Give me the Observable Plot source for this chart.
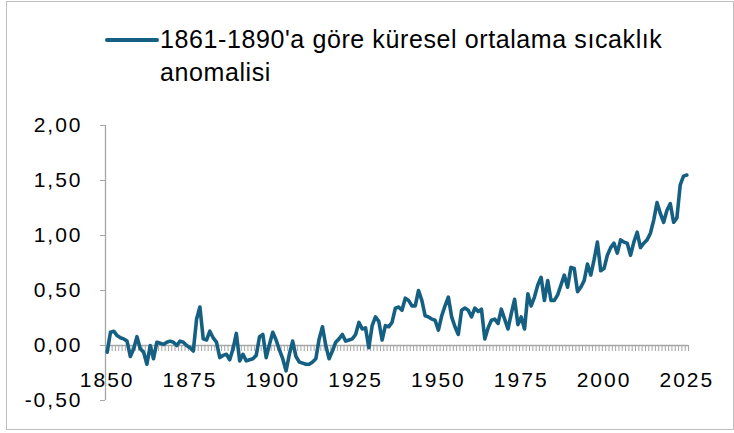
<!DOCTYPE html>
<html>
<head>
<meta charset="utf-8">
<script src="https://cdn.jsdelivr.net/npm/d3@7"></script>
<script src="https://cdn.jsdelivr.net/npm/@observablehq/plot@0.6"></script>
<style>
  body { margin: 0; background: #fff; }
  #page { position: relative; width: 734px; height: 433px; overflow: hidden; font-family: "Liberation Sans", Arial, sans-serif; }
  #frame { position: absolute; left: 6px; top: 1px; width: 726px; height: 427px; border: 1px solid #bfbfbf; }
  #legend { position: absolute; left: 105px; top: 23px; display: flex; align-items: flex-start; }
  #swatch { width: 54px; height: 4px; background: #156082; border-radius: 2px; margin-top: 15px; }
  #legtext { margin-left: 1px; font-size: 25px; line-height: 33px; letter-spacing: 0.6px; color: #000; white-space: nowrap; }
  #chart { position: absolute; left: 0; top: 100px; }
</style>
</head>
<body>
<div id="page">
  <div id="frame"></div>
  <div id="legend"><div id="swatch"></div><div id="legtext">1861-1890'a göre küresel ortalama sıcaklık<br>anomalisi</div></div>
  <div id="chart"></div>
</div>
<script>
// Annual global mean temperature anomaly vs 1861-1890 (°C), 1850..2025
const firstYear = 1850;
const anomaly = [
  -0.06, 0.12, 0.13, 0.09, 0.07, 0.06, 0.04, -0.10, -0.03, 0.08,   // 1850-1859
  -0.03, -0.06, -0.17, 0.00, -0.12, 0.03, 0.02, 0.01, 0.03, 0.04,  // 1860-1869
  0.03, 0.00, 0.04, 0.03, 0.00, -0.02, -0.05, 0.24, 0.35, 0.06,    // 1870-1879
  0.05, 0.13, 0.07, 0.03, -0.11, -0.09, -0.08, -0.13, -0.03, 0.11, // 1880-1889
  -0.14, -0.08, -0.14, -0.13, -0.12, -0.09, 0.08, 0.10, -0.11, 0.01, // 1890-1899
  0.12, 0.05, -0.04, -0.12, -0.23, -0.08, 0.04, -0.10, -0.15, -0.16, // 1900-1909
  -0.17, -0.17, -0.15, -0.12, 0.06, 0.17, 0.00, -0.12, -0.05, 0.03,  // 1910-1919
  0.06, 0.10, 0.04, 0.05, 0.06, 0.10, 0.21, 0.15, 0.16, -0.02,     // 1920-1929
  0.18, 0.26, 0.22, 0.05, 0.18, 0.17, 0.21, 0.34, 0.35, 0.32,      // 1930-1939
  0.43, 0.41, 0.36, 0.36, 0.50, 0.41, 0.27, 0.26, 0.24, 0.23,      // 1940-1949
  0.14, 0.27, 0.36, 0.44, 0.26, 0.17, 0.10, 0.32, 0.34, 0.32,      // 1950-1959
  0.26, 0.34, 0.31, 0.33, 0.06, 0.16, 0.23, 0.24, 0.20, 0.33,      // 1960-1969
  0.24, 0.15, 0.29, 0.42, 0.19, 0.26, 0.15, 0.47, 0.36, 0.44,      // 1970-1979
  0.55, 0.62, 0.41, 0.59, 0.41, 0.41, 0.46, 0.55, 0.64, 0.53,      // 1980-1989
  0.71, 0.70, 0.49, 0.53, 0.59, 0.74, 0.64, 0.78, 0.94, 0.68,      // 1990-1999
  0.70, 0.82, 0.89, 0.93, 0.84, 0.96, 0.94, 0.93, 0.82, 0.94,      // 2000-2009
  1.03, 0.89, 0.93, 0.96, 1.02, 1.14, 1.30, 1.20, 1.12, 1.23,      // 2010-2019
  1.29, 1.12, 1.16, 1.46, 1.54, 1.55                               // 2020-2025
];
const years = anomaly.map((_, i) => firstYear + i);
const xLabels = [1850, 1875, 1900, 1925, 1950, 1975, 2000, 2025];
const yTicks = [-0.5, 0, 0.5, 1, 1.5, 2];

const data = years.map((year, i) => ({year, value: anomaly[i]}));
const boundaries = years.map(y => y - 0.5).concat([years[years.length - 1] + 0.5]);

const gray = "#a6a6a6";
const lineColor = "#156082";

const chart = Plot.plot({
  width: 734,
  height: 333,
  marginLeft: 105,
  marginRight: 46,
  marginTop: 25,
  marginBottom: 33,
  style: {fontFamily: "'Liberation Sans', Arial, sans-serif", fontSize: "21px", letterSpacing: "2px", color: "#000", background: "transparent", overflow: "visible"},
  x: {domain: [boundaries[0], boundaries[boundaries.length - 1]], axis: null},
  y: {domain: [-0.5, 2], axis: null},
  marks: [
    Plot.ruleX(boundaries, {x: d => d, y1: () => 0, y2: () => 0, insetBottom: -6, stroke: gray, strokeWidth: 1}),
    Plot.ruleY([0], {stroke: gray, strokeWidth: 1.3}),
    Plot.ruleX([boundaries[0]], {stroke: gray, strokeWidth: 1.3}),
    Plot.axisY(yTicks, {anchor: "left", tickSize: 5, tickPadding: 18, tickFormat: d => d.toFixed(2).replace(".", ","), stroke: gray, fill: "#000", fontSize: 21, label: null}),
    Plot.line(data, {x: "year", y: "value", stroke: lineColor, strokeWidth: 3.6, strokeLinejoin: "round", strokeLinecap: "round"}),
    Plot.text(xLabels, {x: d => d, y: () => 0, dy: 35, text: d => String(d), fill: "#000", fontSize: 21})
  ]
});
document.getElementById("chart").appendChild(chart);
</script>
</body>
</html>
